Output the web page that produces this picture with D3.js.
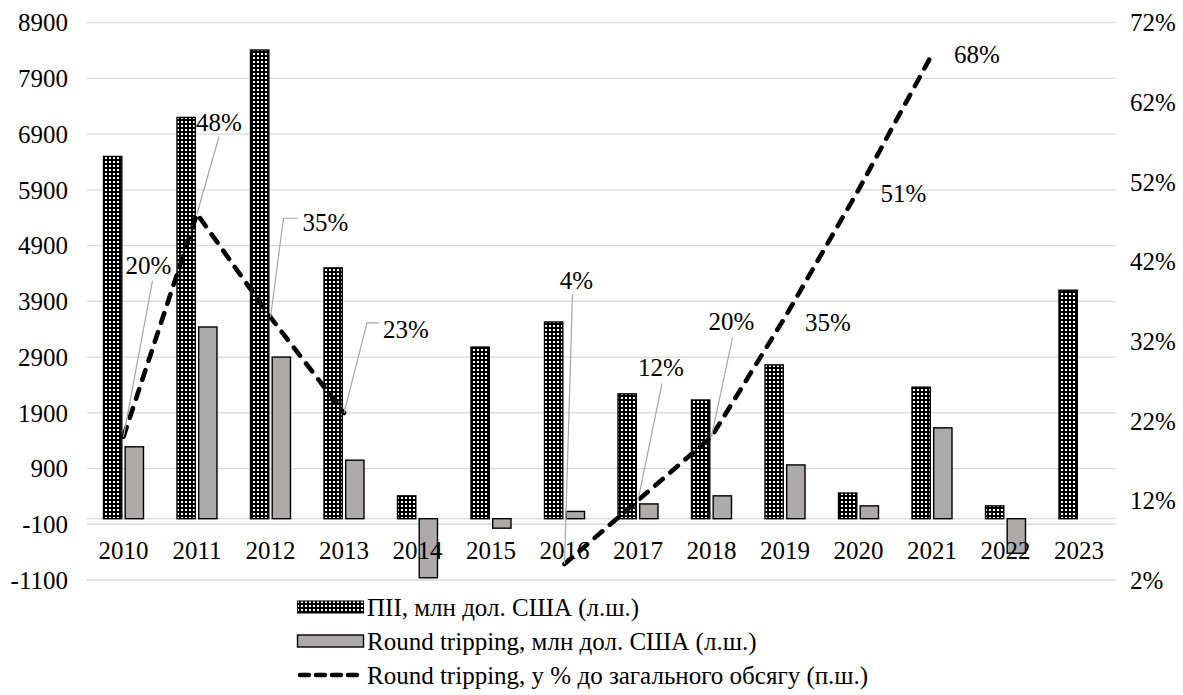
<!DOCTYPE html>
<html>
<head>
<meta charset="utf-8">
<script src="https://cdn.jsdelivr.net/npm/d3@7"></script>
<style>
  html, body { margin: 0; padding: 0; background: #fff; }
  svg text { font-family: "Liberation Serif", "Times New Roman", serif; fill: #000; }
</style>
</head>
<body>
<svg id="chart" width="1183" height="695" font-family="Liberation Serif, Times New Roman, serif"></svg>
<script>
// Years on the category axis
const years = [2010, 2011, 2012, 2013, 2014, 2015, 2016, 2017, 2018, 2019, 2020, 2021, 2022, 2023];
// ПІІ, млн дол. США (left axis)
const fdiValues = [6500, 7200, 8410, 4500, 410, 3080, 3530, 2240, 2130, 2760, 460, 2360, 230, 4100];
// Round tripping, млн дол. США (left axis); no value for 2023
const roundTripValues = [1290, 3440, 2900, 1050, -1060, -170, 130, 265, 410, 965, 230, 1630, -620, null];
// Round tripping as % of total volume (right axis); gaps where no value
const sharePercent = [20, 48, 35, 23, null, null, 4, 12, 20, 35, 51, 68, null, null];
// Axis tick labels
const leftTicks = [-1100, -100, 900, 1900, 2900, 3900, 4900, 5900, 6900, 7900, 8900];
const rightTicks = [2, 12, 22, 32, 42, 52, 62, 72];
// Legend entries
const legendLabels = [
  "ПІІ, млн дол. США (л.ш.)",
  "Round tripping, млн дол. США (л.ш.)",
  "Round tripping, у % до загального обсягу (п.ш.)"
];

// Label placement for the percentage labels: offset of the label centre from its point,
// and optional leader line (start offset from label centre, optional elbow).
const labelPlacement = {
  2010: { dx: 25, dy: -171, lead: [4, 15] },
  2011: { dx: 22, dy: -92, lead: [0, 15] },
  2012: { dx: 55, dy: -95, lead: [-28, -4], elbow: [-42, -4] },
  2013: { dx: 62, dy: -84, lead: [-27, -6], elbow: [-39, -6] },
  2016: { dx: 12, dy: -284, lead: [-4, 14] },
  2017: { dx: 23, dy: -133, lead: [1, 16] },
  2018: { dx: 20, dy: -115, lead: [1, 16] },
  2019: { dx: 43, dy: 5 },
  2020: { dx: 45, dy: 3 },
  2021: { dx: 45, dy: 0 }
};

const svg = d3.select("#chart");
const FONT = 25;
const plot = { left: 86.75, right: 1115.75, top: 22.7, bottom: 580 };

const x = d3.scaleBand().domain(years).range([plot.left, plot.right]).paddingInner(0).paddingOuter(0);
const yL = d3.scaleLinear().domain([-1100, 8900]).range([plot.bottom, plot.top]);
const yR = d3.scaleLinear().domain([2, 72]).range([plot.bottom, plot.top]);

// Pattern for the ПІІ bars: black with small white squares
const defs = svg.append("defs");
const pat = defs.append("pattern").attr("id", "dots")
  .attr("patternUnits", "userSpaceOnUse").attr("width", 4).attr("height", 4);
pat.append("rect").attr("width", 4).attr("height", 4).attr("fill", "#000");
pat.append("rect").attr("x", 1).attr("y", 1).attr("width", 2).attr("height", 2).attr("fill", "#fff");

svg.append("rect").attr("width", 1183).attr("height", 695).attr("fill", "#fff");

// Gridlines
svg.append("g").selectAll("line").data(leftTicks).join("line")
  .attr("x1", plot.left).attr("x2", plot.right)
  .attr("y1", d => yL(d)).attr("y2", d => yL(d))
  .attr("stroke", "#d9d9d9").attr("stroke-width", 1.3);

// Zero line for the category axis
svg.append("line")
  .attr("x1", plot.left).attr("x2", plot.right)
  .attr("y1", yL(0)).attr("y2", yL(0))
  .attr("stroke", "#d9d9d9").attr("stroke-width", 1.3);

// Left axis labels
svg.append("g").selectAll("text").data(leftTicks).join("text")
  .attr("x", 68).attr("y", d => yL(d)).attr("dy", "0.35em")
  .attr("text-anchor", "end").attr("font-size", FONT).text(d => d);

// Right axis labels
svg.append("g").selectAll("text").data(rightTicks).join("text")
  .attr("x", 1130).attr("y", d => yR(d)).attr("dy", "0.35em")
  .attr("text-anchor", "start").attr("font-size", FONT).text(d => d + "%");

// Bars
const step = x.bandwidth();
const barW = step * 0.249;
const gap = step * 0.023;
const rows = years.map((yr, i) => ({ yr, fdi: fdiValues[i], rt: roundTripValues[i], pct: sharePercent[i] }));

svg.append("g").selectAll("rect").data(rows).join("rect")
  .attr("x", d => x(d.yr) + step / 2 - gap - barW)
  .attr("width", barW)
  .attr("y", d => Math.min(yL(d.fdi), yL(0)))
  .attr("height", d => Math.abs(yL(d.fdi) - yL(0)))
  .attr("fill", "url(#dots)").attr("stroke", "#000").attr("stroke-width", 1.4);

svg.append("g").selectAll("rect").data(rows.filter(d => d.rt != null)).join("rect")
  .attr("x", d => x(d.yr) + step / 2 + gap)
  .attr("width", barW)
  .attr("y", d => Math.min(yL(d.rt), yL(0)))
  .attr("height", d => Math.abs(yL(d.rt) - yL(0)))
  .attr("fill", "#aeaaaa").attr("stroke", "#000").attr("stroke-width", 1.4);

// Category labels
svg.append("g").selectAll("text").data(years).join("text")
  .attr("x", d => x(d) + step / 2).attr("y", 550).attr("dy", "0.35em")
  .attr("text-anchor", "middle").attr("font-size", FONT).text(d => d);

// Percentage line
const cx = d => x(d.yr) + step / 2;
const line = d3.line().defined(d => d.pct != null).x(cx).y(d => yR(d.pct));
svg.append("path").datum(rows).attr("d", line)
  .attr("fill", "none").attr("stroke", "#000").attr("stroke-width", 4.6)
  .attr("stroke-dasharray", "10,10").attr("stroke-linecap", "round");

// Data labels with leader lines
const labelled = rows.filter(d => d.pct != null);
const leaders = svg.append("g");
labelled.forEach(d => {
  const p = labelPlacement[d.yr];
  const px = cx(d), py = yR(d.pct);
  const lx = px + p.dx, ly = py + p.dy;
  if (p.lead) {
    const pts = [[lx + p.lead[0], ly + p.lead[1]]];
    if (p.elbow) pts.push([lx + p.elbow[0], ly + p.elbow[1]]);
    pts.push([px, py]);
    leaders.append("path").attr("d", d3.line()(pts))
      .attr("fill", "none").attr("stroke", "#a6a6a6").attr("stroke-width", 1.2);
  }
  svg.append("text").attr("x", lx).attr("y", ly).attr("dy", "0.35em")
    .attr("text-anchor", "middle").attr("font-size", FONT).text(d.pct + "%");
});

// Legend
const lg = svg.append("g");
const legendRows = [607, 641, 675];
lg.append("rect").attr("x", 297.5).attr("y", legendRows[0] - 6).attr("width", 66).attr("height", 12)
  .attr("fill", "url(#dots)").attr("stroke", "#000").attr("stroke-width", 1);
lg.append("rect").attr("x", 297.5).attr("y", legendRows[1] - 6).attr("width", 66).attr("height", 12)
  .attr("fill", "#aeaaaa").attr("stroke", "#000").attr("stroke-width", 1.4);
lg.append("line").attr("x1", 300).attr("x2", 364).attr("y1", legendRows[2]).attr("y2", legendRows[2])
  .attr("stroke", "#000").attr("stroke-width", 4.4).attr("stroke-dasharray", "9,7").attr("stroke-linecap", "round");
lg.selectAll("text").data(legendLabels).join("text")
  .attr("x", 367).attr("y", (d, i) => legendRows[i]).attr("dy", "0.35em")
  .attr("font-size", FONT).text(d => d);
</script>
</body>
</html>
